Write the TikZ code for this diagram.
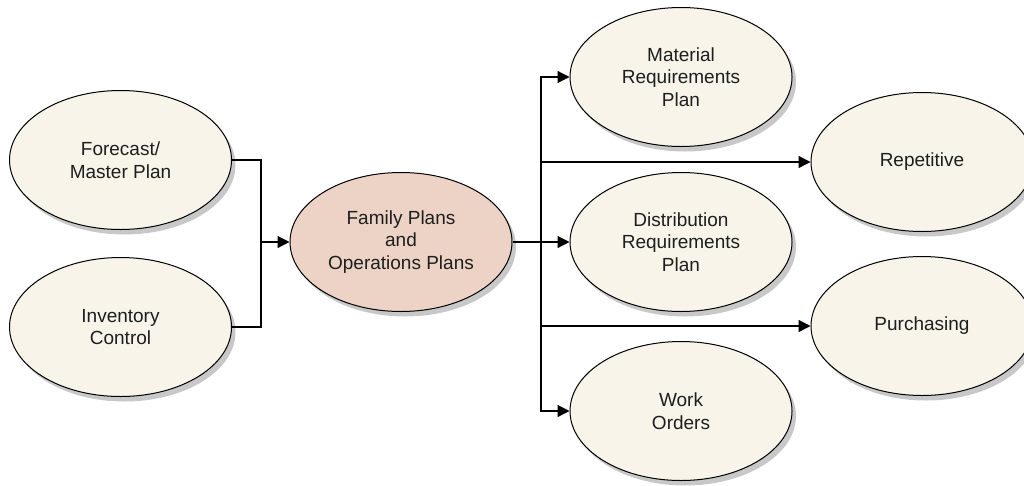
\documentclass[tikz,border=0pt]{standalone}
\usepackage{fontspec}
\setmainfont{Liberation Sans}
\usetikzlibrary{shapes.geometric,shadows,arrows.meta}
\begin{document}
\begin{tikzpicture}[x=1pt,y=-1pt,
  plan/.style={ellipse,draw=black,line width=1pt,fill=kCream,
    minimum width=222pt,minimum height=139pt,inner sep=0pt,align=center,
    font=\fontsize{19}{22.5}\selectfont,text=kText,
    drop shadow={shadow xshift=4pt,shadow yshift=-5pt,fill=kShadow,opacity=1}},
  link/.style={line width=1.2pt,-{Triangle[length=12pt,width=12pt]}}]
  % colors
  \definecolor{kCream}{RGB}{248,244,233}
  \definecolor{kRose}{RGB}{237,211,197}
  \definecolor{kShadow}{RGB}{200,200,200}
  \definecolor{kText}{RGB}{30,30,30}
  \useasboundingbox (0,0) rectangle (1024,485);
  % inputs
  \node[plan] (fc) at (120.5,160) {Forecast/\\Master Plan};
  \node[plan] (ic) at (120.5,327) {Inventory\\Control};
  % center
  \node[plan,fill=kRose] (fam) at (401,242) {Family Plans\\and\\Operations Plans};
  % outputs
  \node[plan] (mrp) at (681,77) {Material\\Requirements\\Plan};
  \node[plan] (drp) at (681,242) {Distribution\\Requirements\\Plan};
  \node[plan] (wo) at (681,411) {Work\\Orders};
  \node[plan] (rep) at (922,162) {Repetitive};
  \node[plan] (pur) at (922,326) {Purchasing};
  % junctions
  \coordinate (jl) at (261,242);
  \coordinate (jr) at (541,242);
  % connectors
  \foreach \n in {fc,ic}
    \draw[line width=1.2pt] (\n.east) -| (jl);
  \draw[link] (jl) -- (fam.west);
  \draw[link] (fam.east) -- (drp.west);
  \foreach \n in {mrp,wo,rep,pur}
    \draw[link] (jr) |- (\n.west);
\end{tikzpicture}
\end{document}
